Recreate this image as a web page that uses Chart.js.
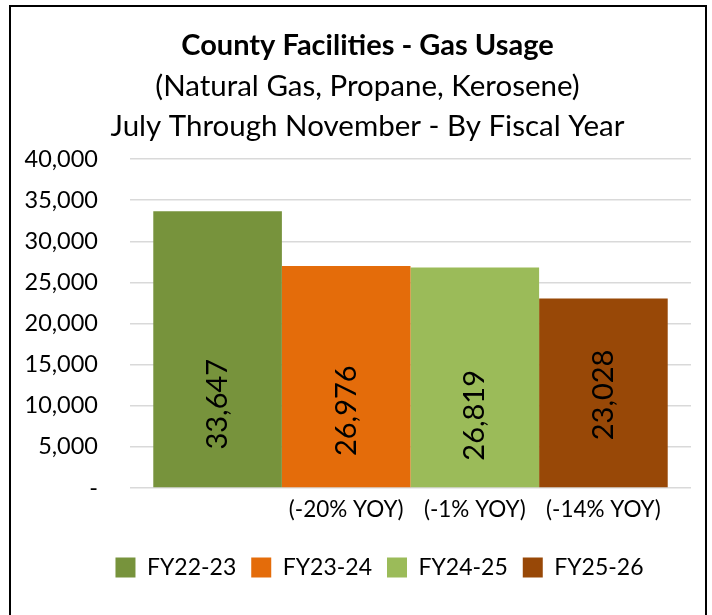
<!DOCTYPE html>
<html>
<head>
<meta charset="utf-8">
<script src="https://cdn.jsdelivr.net/npm/chart.js@4"></script>
<style>
  html, body { margin: 0; padding: 0; background: #fff; }
  #wrap { width: 712px; height: 615px; position: relative; }
</style>
</head>
<body>
<div id="wrap"><canvas id="gas-chart"></canvas></div>
<script>
  const fiscalYears = ['FY22-23', 'FY23-24', 'FY24-25', 'FY25-26'];
  const usage = [33647, 26976, 26819, 23028];
  const yoyLabels = ['', '(-20% YOY)', '(-1% YOY)', '(-14% YOY)'];
  const barColors = ['#77933C', '#E46C0A', '#9BBB59', '#984807'];

  const FONT = 'Lato, "Open Sans", sans-serif';

  // frame around the whole chart, and nudge titles/legend to where Excel put them
  const framePlugin = {
    id: 'frame',
    afterLayout(chart, args, opts) {
      chart.boxes.forEach((box) => {
        let dx = 0;
        if (box === chart.legend) dx = opts.legendShift;
        else if (box.position === 'top') dx = opts.titleShift;
        box.left += dx;
        box.right += dx;
      });
    },
    beforeDraw(chart) {
      const ctx = chart.ctx;
      ctx.save();
      ctx.fillStyle = '#fff';
      ctx.fillRect(0, 0, chart.width, chart.height);
      ctx.strokeStyle = '#000';
      ctx.lineWidth = 2;
      ctx.strokeRect(10, 6, 696, 700);
      ctx.restore();
    }
  };

  // rotated value labels inside bars + YOY text under bars
  const barTextPlugin = {
    id: 'barText',
    afterDatasetsDraw(chart, args, opts) {
      const ctx = chart.ctx;
      ctx.save();
      chart.data.datasets.forEach((ds, i) => {
        const bar = chart.getDatasetMeta(i).data[0];
        if (!bar) return;
        const midY = (bar.y + bar.base) / 2 + opts.shift[i];
        ctx.save();
        ctx.translate(bar.x, midY);
        ctx.rotate(-Math.PI / 2);
        ctx.font = '29px ' + FONT;
        ctx.fillStyle = '#000';
        ctx.textAlign = 'center';
        ctx.textBaseline = 'middle';
        ctx.fillText(ds.data[0].toLocaleString('en-US'), 0, 0);
        ctx.restore();

        if (yoyLabels[i]) {
          ctx.font = '22.5px ' + FONT;
          ctx.fillStyle = '#000';
          ctx.textAlign = 'center';
          ctx.textBaseline = 'middle';
          ctx.fillText(yoyLabels[i], bar.x, chart.chartArea.bottom + 22);
        }
      });
      ctx.restore();
    }
  };

  const data = {
    labels: [''],
    datasets: fiscalYears.map((fy, i) => ({
      label: fy,
      data: [usage[i]],
      backgroundColor: barColors[i],
      borderWidth: 0,
      categoryPercentage: 0.917,
      barPercentage: 1,
    }))
  };

  const config = {
    type: 'bar',
    data: data,
    plugins: [framePlugin, barTextPlugin],
    options: {
      responsive: false,
      animation: false,
      layout: {
        padding: { left: 0, right: 21, top: 0, bottom: 26 }
      },
      scales: {
        x: {
          ticks: { display: false },
          grid: { display: false },
          border: { display: false },
          afterFit: (s) => { s.height = 53; }
        },
        y: {
          min: 0,
          max: 40000,
          ticks: {
            stepSize: 5000,
            padding: 32,
            color: '#000',
            font: { family: FONT, size: 23.5 },
            callback: (v) => v === 0 ? '-' : v.toLocaleString('en-US')
          },
          grid: {
            color: '#d9d9d9',
            lineWidth: 1.5,
            drawTicks: false
          },
          border: { display: false },
          afterFit: (s) => { s.width = 130; }
        }
      },
      plugins: {
        title: {
          display: true,
          text: 'County Facilities - Gas Usage',
          color: '#000',
          font: { family: FONT, size: 29, weight: 'bold', lineHeight: '30px' },
          padding: { top: 31, bottom: 0 }
        },
        subtitle: {
          display: true,
          text: ['(Natural Gas, Propane, Kerosene)', 'July Through November - By Fiscal Year'],
          color: '#000',
          font: { family: FONT, size: 29.5, lineHeight: '40px' },
          padding: { top: 5, bottom: 13 }
        },
        legend: {
          position: 'bottom',
          labels: {
            color: '#000',
            boxWidth: 20,
            boxHeight: 20,
            padding: 15,
            font: { family: FONT, size: 23 }
          }
        },
        tooltip: { enabled: false },
        frame: { legendShift: 34, titleShift: 22 },
        barText: { shift: [55, 34, 38, 2] }
      }
    }
  };

  const canvas = document.getElementById('gas-chart');
  canvas.width = 712;
  canvas.height = 615;
  const gasChart = new Chart(canvas, config);
</script>
</body>
</html>
